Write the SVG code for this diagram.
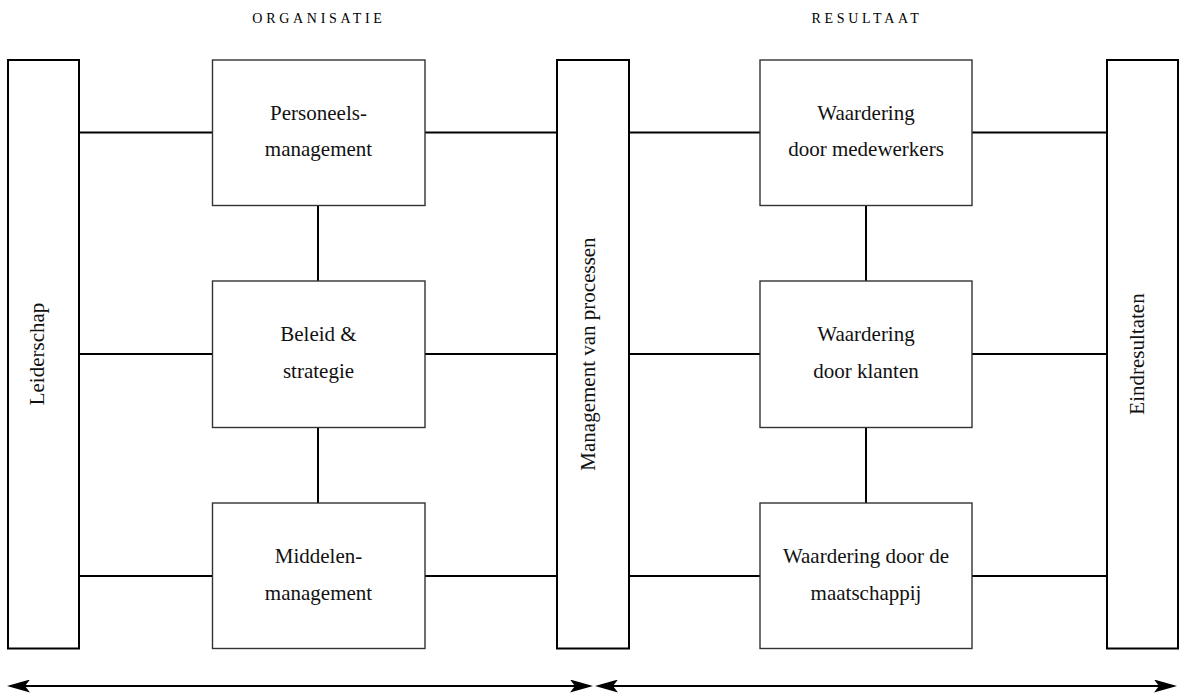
<svg xmlns="http://www.w3.org/2000/svg" width="1180" height="696" viewBox="0 0 1180 696">
<style>
.bar{fill:#fff;stroke:#000;stroke-width:2}
.box{fill:#fff;stroke:#333;stroke-width:1.4}
.conn{stroke:#000;stroke-width:2;fill:none}
.lbl{font-family:"Liberation Serif",serif;font-size:21px;fill:#111;text-anchor:middle}
.ttl{font-family:"Liberation Serif",serif;font-size:14px;fill:#000;text-anchor:middle;letter-spacing:3.7px}
</style>
<defs>
<marker id="ah" viewBox="0 0 23 13" refX="13" refY="6.5" markerWidth="23" markerHeight="13" markerUnits="userSpaceOnUse" orient="auto-start-reverse">
<path d="M0,0 L23,6.5 L0,13 L5,6.5 Z" fill="#000"/>
</marker>
</defs>
<rect width="1180" height="696" fill="#fff"/>
<g id="titles">
<text class="ttl" x="319" y="23">ORGANISATIE</text>
<text class="ttl" x="867" y="23">RESULTAAT</text>
</g>
<g id="connectors">
<line class="conn" x1="79" y1="132.5" x2="212" y2="132.5"/>
<line class="conn" x1="79" y1="354" x2="212" y2="354"/>
<line class="conn" x1="79" y1="576" x2="212" y2="576"/>
<line class="conn" x1="425" y1="132.5" x2="557" y2="132.5"/>
<line class="conn" x1="425" y1="354" x2="557" y2="354"/>
<line class="conn" x1="425" y1="576" x2="557" y2="576"/>
<line class="conn" x1="629" y1="132.5" x2="760" y2="132.5"/>
<line class="conn" x1="629" y1="354" x2="760" y2="354"/>
<line class="conn" x1="629" y1="576" x2="760" y2="576"/>
<line class="conn" x1="972" y1="132.5" x2="1107" y2="132.5"/>
<line class="conn" x1="972" y1="354" x2="1107" y2="354"/>
<line class="conn" x1="972" y1="576" x2="1107" y2="576"/>
<line class="conn" x1="318" y1="205.5" x2="318" y2="281"/>
<line class="conn" x1="318" y1="427.5" x2="318" y2="503"/>
<line class="conn" x1="866" y1="205.5" x2="866" y2="281"/>
<line class="conn" x1="866" y1="427.5" x2="866" y2="503"/>
<line class="conn" x1="17" y1="686" x2="583" y2="686" marker-start="url(#ah)" marker-end="url(#ah)"/>
<line class="conn" x1="605" y1="686" x2="1167" y2="686" marker-start="url(#ah)" marker-end="url(#ah)"/>
</g>
<g id="leiderschap">
<rect class="bar" x="8" y="60" width="71" height="588.5"/>
<text class="lbl" transform="translate(43.5,354) rotate(-90)">Leiderschap</text>
</g>
<g id="personeelsmanagement">
<rect class="box" x="212.5" y="60" width="212.5" height="145.5"/>
<text class="lbl" x="318.5" y="119.5">Personeels-</text>
<text class="lbl" x="318.5" y="156">management</text>
</g>
<g id="beleid">
<rect class="box" x="212.5" y="281" width="212.5" height="146.5"/>
<text class="lbl" x="318.5" y="341">Beleid &amp;</text>
<text class="lbl" x="318.5" y="378">strategie</text>
</g>
<g id="middelenmanagement">
<rect class="box" x="212.5" y="503" width="212.5" height="145.5"/>
<text class="lbl" x="318.5" y="563">Middelen-</text>
<text class="lbl" x="318.5" y="600">management</text>
</g>
<g id="processen">
<rect class="bar" x="557" y="60" width="72" height="588.5"/>
<text class="lbl" transform="translate(594.5,354) rotate(-90)">Management van processen</text>
</g>
<g id="medewerkers">
<rect class="box" x="760" y="60" width="212" height="145.5"/>
<text class="lbl" x="866" y="119.5">Waardering</text>
<text class="lbl" x="866" y="156">door medewerkers</text>
</g>
<g id="klanten">
<rect class="box" x="760" y="281" width="212" height="146.5"/>
<text class="lbl" x="866" y="341">Waardering</text>
<text class="lbl" x="866" y="378">door klanten</text>
</g>
<g id="maatschappij">
<rect class="box" x="760" y="503" width="212" height="145.5"/>
<text class="lbl" x="866" y="563">Waardering door de</text>
<text class="lbl" x="866" y="600">maatschappij</text>
</g>
<g id="eindresultaten">
<rect class="bar" x="1107" y="60" width="71" height="588.5"/>
<text class="lbl" transform="translate(1144,354) rotate(-90)">Eindresultaten</text>
</g>
</svg>
